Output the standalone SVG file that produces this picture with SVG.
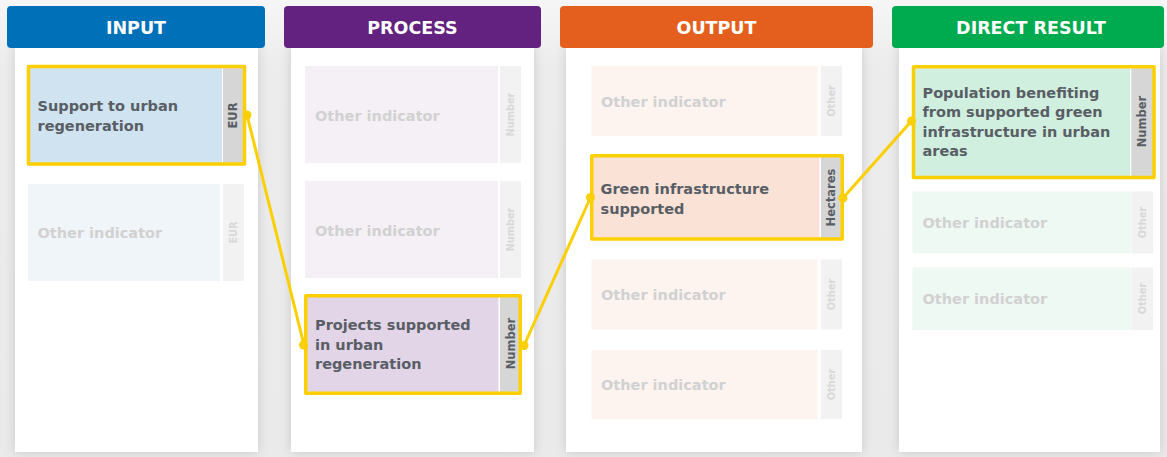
<svg xmlns="http://www.w3.org/2000/svg" width="1167" height="457" viewBox="0 0 1167 457">
<style>
.hdr{font-family:"DejaVu Sans",Verdana,sans-serif;font-weight:bold;font-size:17.5px;fill:#fff;text-anchor:middle}
.lbl{font-family:"DejaVu Sans",Verdana,sans-serif;font-weight:bold;font-size:14.5px;fill:#595e65}
.olbl{font-family:"DejaVu Sans",Verdana,sans-serif;font-weight:bold;font-size:14.5px;fill:#d1d1d1}
.unit{font-family:"DejaVu Sans",Verdana,sans-serif;font-weight:bold;font-size:11.5px;fill:#595e65;text-anchor:middle;dominant-baseline:central}
.ounit{font-family:"DejaVu Sans",Verdana,sans-serif;font-weight:bold;font-size:9.8px;fill:#d8d8d8;text-anchor:middle;dominant-baseline:central}
.strip{fill:#d6d6d6}
.ostrip{fill:#f2f2f2}
.sel{fill:none;stroke:#fbcf00;stroke-width:3.5;stroke-linejoin:round}
.panel{fill:#fff;filter:url(#sh)}
.conn line{stroke:#fbcf00;stroke-width:3}
.conn circle{fill:#fbcf00}
</style>
<defs>
<filter id="sh" x="-20%" y="-10%" width="140%" height="120%">
<feGaussianBlur in="SourceAlpha" stdDeviation="6"/>
<feComponentTransfer><feFuncA type="linear" slope="0.15"/></feComponentTransfer>
<feMerge><feMergeNode/><feMergeNode in="SourceGraphic"/></feMerge>
</filter>
<linearGradient id="bg" x1="0" y1="0" x2="0" y2="1">
<stop offset="0" stop-color="#f6f6f6"/>
<stop offset="0.15" stop-color="#ececec"/>
<stop offset="1" stop-color="#eaeaea"/>
</linearGradient>
</defs>
<rect x="0" y="0" width="1167" height="457" fill="url(#bg)"/>
<g id="panels">
<rect class="panel" x="15" y="46" width="243" height="406"/>
<rect class="panel" x="291" y="46" width="243" height="406"/>
<rect class="panel" x="566" y="46" width="296" height="406"/>
<rect class="panel" x="899" y="46" width="261" height="406"/>
</g>
<g id="headers">
<g id="h-input"><rect x="7" y="6" width="258" height="42" rx="4" fill="#0070b8"/><text class="hdr" x="136" y="34">INPUT</text></g>
<g id="h-process"><rect x="284" y="6" width="257" height="42" rx="4" fill="#632180"/><text class="hdr" x="412.5" y="34">PROCESS</text></g>
<g id="h-output"><rect x="560" y="6" width="313" height="42" rx="4" fill="#e45f1d"/><text class="hdr" x="716.5" y="34">OUTPUT</text></g>
<g id="h-result"><rect x="892" y="6" width="272" height="42" rx="4" fill="#00ab4f"/><text class="hdr" x="1031" y="34">DIRECT RESULT</text></g>
</g>

<g id="n-input-main">
<rect x="28" y="66" width="216" height="98" fill="#cfe3f1"/>
<rect x="222" y="66" width="1" height="98" fill="#fff"/>
<rect class="strip" x="223" y="66" width="20" height="98"/>
<rect class="sel" x="28.5" y="66.5" width="216" height="97.5"/>
<text class="lbl" x="37.5" y="111">Support to urban</text>
<text class="lbl" x="37.5" y="130.5">regeneration</text>
<text class="unit" transform="translate(232.5 115.5) rotate(-90)">EUR</text>
</g>
<g id="n-input-other">
<rect x="28" y="184" width="192" height="97" fill="#f0f5fa"/>
<rect class="ostrip" x="223" y="184" width="21" height="97"/>
<text class="olbl" x="37.5" y="238">Other indicator</text>
<text class="ounit" transform="translate(233.5 232.5) rotate(-90)">EUR</text>
</g>

<g id="n-process-other1">
<rect x="305" y="66" width="193" height="97" fill="#f5f0f6"/>
<rect class="ostrip" x="500" y="66" width="21" height="97"/>
<text class="olbl" x="315" y="121">Other indicator</text>
<text class="ounit" transform="translate(510.5 114.5) rotate(-90)">Number</text>
</g>
<g id="n-process-other2">
<rect x="305" y="181" width="193" height="97" fill="#f5f0f6"/>
<rect class="ostrip" x="500" y="181" width="21" height="97"/>
<text class="olbl" x="315" y="235.5">Other indicator</text>
<text class="ounit" transform="translate(510.5 229.5) rotate(-90)">Number</text>
</g>
<g id="n-process-main">
<rect x="306" y="296" width="214" height="97" fill="#e2d5e8"/>
<rect x="498.5" y="296" width="1.5" height="97" fill="#fff"/>
<rect class="strip" x="500" y="296" width="20" height="97"/>
<rect class="sel" x="305.75" y="295.75" width="214.5" height="97.5"/>
<text class="lbl" x="315" y="330">Projects supported</text>
<text class="lbl" x="315" y="349.5">in urban</text>
<text class="lbl" x="315" y="369">regeneration</text>
<text class="unit" transform="translate(511 343.5) rotate(-90)">Number</text>
</g>

<g id="n-output-other1">
<rect x="591.5" y="66" width="226" height="70" fill="#fdf4f0"/>
<rect class="ostrip" x="821" y="66" width="21" height="70"/>
<text class="olbl" x="601" y="106.5">Other indicator</text>
<text class="ounit" transform="translate(831.5 101) rotate(-90)">Other</text>
</g>
<g id="n-output-main">
<rect x="592" y="156" width="250" height="83" fill="#fbe2d6"/>
<rect x="819.5" y="156" width="1.5" height="83" fill="#fff"/>
<rect class="strip" x="821" y="156" width="21" height="83"/>
<rect class="sel" x="591.75" y="155.75" width="250.5" height="83.25"/>
<text class="lbl" x="600.5" y="194">Green infrastructure</text>
<text class="lbl" x="600.5" y="213.5">supported</text>
<text class="unit" transform="translate(831 197.5) rotate(-90)">Hectares</text>
</g>
<g id="n-output-other2">
<rect x="591.5" y="259.5" width="226" height="70" fill="#fdf4f0"/>
<rect class="ostrip" x="821" y="259.5" width="21" height="70"/>
<text class="olbl" x="601" y="300">Other indicator</text>
<text class="ounit" transform="translate(831.5 294.5) rotate(-90)">Other</text>
</g>
<g id="n-output-other3">
<rect x="591.5" y="350" width="226" height="69" fill="#fdf4f0"/>
<rect class="ostrip" x="821" y="350" width="21" height="69"/>
<text class="olbl" x="601" y="390">Other indicator</text>
<text class="ounit" transform="translate(831.5 384.5) rotate(-90)">Other</text>
</g>

<g id="n-result-main">
<rect x="913" y="67" width="241" height="111" fill="#d0efde"/>
<rect x="1130" y="67" width="1.5" height="111" fill="#fff"/>
<rect class="strip" x="1131.5" y="67" width="21" height="111"/>
<rect class="sel" x="913.5" y="66.75" width="240.5" height="110.75"/>
<text class="lbl" x="922.5" y="97.5">Population benefiting</text>
<text class="lbl" x="922.5" y="117">from supported green</text>
<text class="lbl" x="922.5" y="136.5">infrastructure in urban</text>
<text class="lbl" x="922.5" y="156">areas</text>
<text class="unit" transform="translate(1142 121.5) rotate(-90)">Number</text>
</g>
<g id="n-result-other1">
<rect x="912.5" y="191.5" width="218.5" height="62" fill="#eff9f4"/>
<rect class="ostrip" x="1131.5" y="191.5" width="21.5" height="62"/>
<text class="olbl" x="922.5" y="228">Other indicator</text>
<text class="ounit" transform="translate(1142.5 222.5) rotate(-90)">Other</text>
</g>
<g id="n-result-other2">
<rect x="912.5" y="267.5" width="218.5" height="62.5" fill="#eff9f4"/>
<rect class="ostrip" x="1131.5" y="267.5" width="21.5" height="62.5"/>
<text class="olbl" x="922.5" y="304">Other indicator</text>
<text class="ounit" transform="translate(1142.5 298.5) rotate(-90)">Other</text>
</g>

<g id="connectors" class="conn">
<line x1="247" y1="115" x2="304" y2="345"/>
<circle cx="247" cy="115" r="4.5"/>
<circle cx="303.5" cy="345" r="4.5"/>
<line x1="524" y1="345.5" x2="590.5" y2="197.5"/>
<circle cx="524" cy="345.5" r="4.5"/>
<circle cx="590.5" cy="197.5" r="4.5"/>
<line x1="843" y1="198" x2="911.5" y2="121"/>
<circle cx="843" cy="198" r="4.5"/>
<circle cx="911.5" cy="121" r="4.5"/>
</g>
</svg>
